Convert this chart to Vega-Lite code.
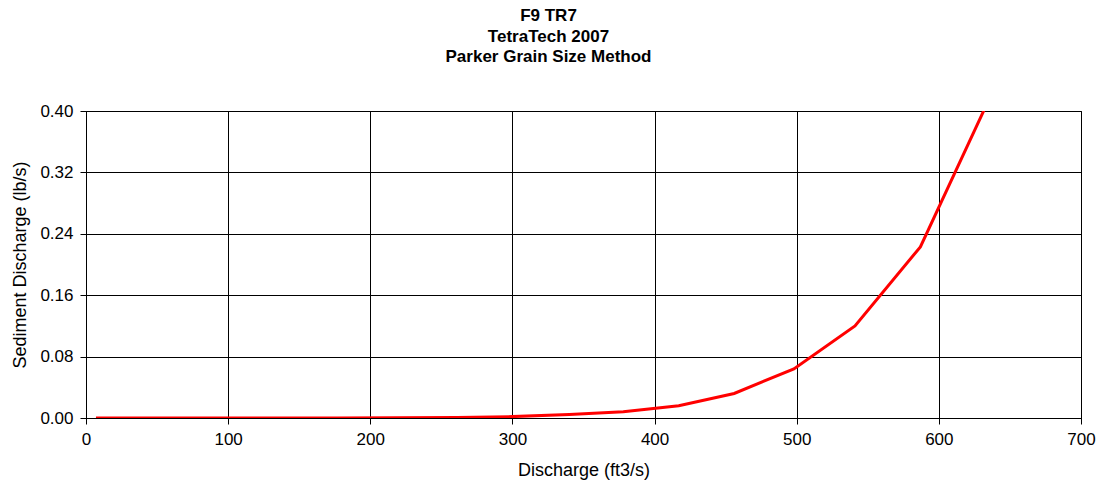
{
  "$schema": "https://vega.github.io/schema/vega-lite/v6.json",
  "width": 995,
  "height": 307,
  "autosize": {"type": "none"},
  "padding": {"left": 86, "top": 111, "right": 20, "bottom": 66},
  "background": "white",
  "config": {
    "font": "Liberation Sans",
    "view": {"stroke": "black", "strokeWidth": 1},
    "axis": {
      "labelFont": "Liberation Sans",
      "titleFont": "Liberation Sans",
      "labelFontSize": 17,
      "titleFontSize": 18,
      "titleFontWeight": "normal",
      "labelColor": "black",
      "titleColor": "black",
      "domainColor": "black",
      "tickColor": "black",
      "gridColor": "black",
      "gridOpacity": 1,
      "gridWidth": 1,
      "tickSize": 6
    }
  },
  "title": {
    "text": ["F9 TR7", "TetraTech 2007", "Parker Grain Size Method"],
    "font": "Liberation Sans",
    "fontSize": 17,
    "fontWeight": "bold",
    "color": "black",
    "lineHeight": 20.5,
    "anchor": "middle",
    "dx": -35,
    "offset": 36
  },
  "data": {
    "values": [
      {"q": 7, "qs": 0.0},
      {"q": 50, "qs": 0.0},
      {"q": 92, "qs": 0.0},
      {"q": 135, "qs": 0.0},
      {"q": 177, "qs": 0.0001},
      {"q": 219, "qs": 0.0003},
      {"q": 261, "qs": 0.0007},
      {"q": 300, "qs": 0.0018},
      {"q": 340, "qs": 0.0045},
      {"q": 378, "qs": 0.0082},
      {"q": 417, "qs": 0.016},
      {"q": 456, "qs": 0.032},
      {"q": 498, "qs": 0.064},
      {"q": 541, "qs": 0.12},
      {"q": 587, "qs": 0.223},
      {"q": 634, "qs": 0.41}
    ]
  },
  "mark": {"type": "line", "color": "#ff0000", "strokeWidth": 3, "clip": true},
  "encoding": {
    "x": {
      "field": "q",
      "type": "quantitative",
      "scale": {"domain": [0, 700], "nice": false, "zero": false},
      "axis": {
        "title": "Discharge (ft3/s)",
        "values": [0, 100, 200, 300, 400, 500, 600, 700],
        "labelPadding": 7,
        "titlePadding": 14,
        "labelFlush": false
      }
    },
    "y": {
      "field": "qs",
      "type": "quantitative",
      "scale": {"domain": [0, 0.4], "nice": false},
      "axis": {
        "title": "Sediment Discharge (lb/s)",
        "values": [0, 0.08, 0.16, 0.24, 0.32, 0.4],
        "format": ".2f",
        "labelPadding": 7,
        "titlePadding": 10,
        "labelFlush": false
      }
    }
  }
}
